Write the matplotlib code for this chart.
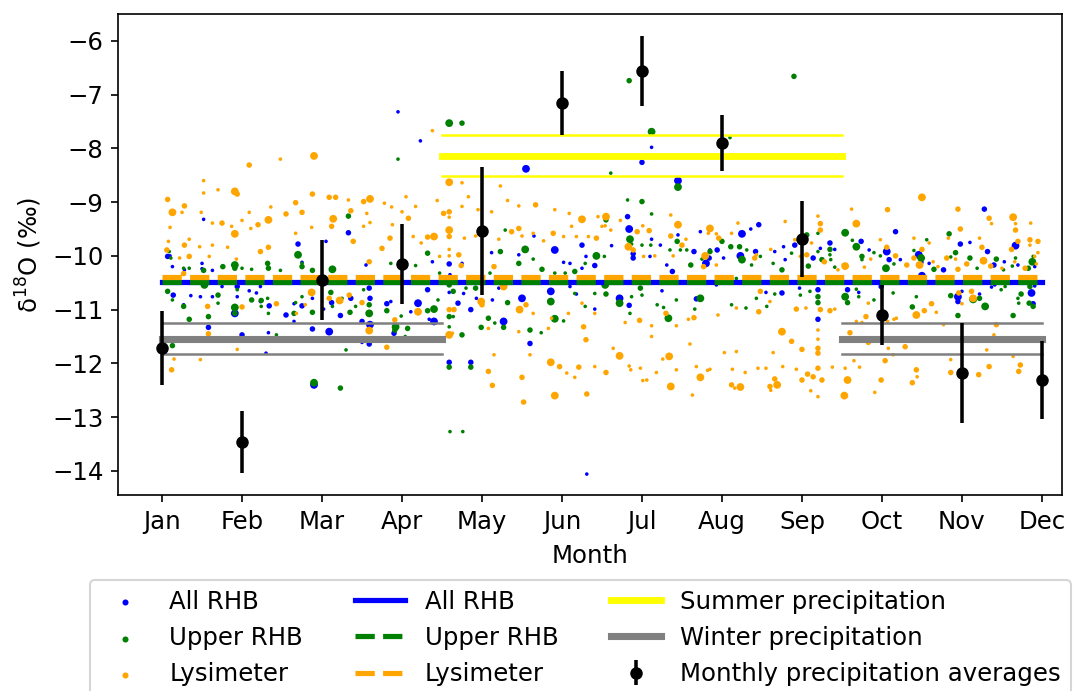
import numpy as np
import matplotlib
matplotlib.use("Agg")
import matplotlib.pyplot as plt

# month labels on the x axis
months = ["Jan", "Feb", "Mar", "Apr", "May", "Jun",
          "Jul", "Aug", "Sep", "Oct", "Nov", "Dec"]

# monthly precipitation averages (mean, +/- std)
precip_mean = [-11.71, -13.46, -10.45, -10.15, -9.53, -7.16,
               -6.56, -7.90, -9.68, -11.10, -12.18, -12.31]
precip_err = [0.69, 0.58, 0.75, 0.74, 1.19, 0.60,
              0.65, 0.53, 0.71, 0.56, 0.93, 0.72]

# mean values of the three groundwater groups
mean_all_rhb = -10.48
mean_upper_rhb = -10.49
mean_lysimeter = -10.40

# seasonal precipitation (mean, std)
summer_mean, summer_std = -8.135, 0.385
winter_mean, winter_std = -11.54, 0.29

# samples: (month position, d18O, sample weight 1..3)
all_rhb = [
    (1.07, -10.01, 2), (1.10, -10.00, 1), (1.13, -10.20, 1), (1.28, -10.26, 1),
    (1.50, -10.14, 1), (1.50, -10.24, 1), (1.63, -10.27, 1), (1.75, -10.57, 1),
    (1.94, -10.57, 2), (2.09, -10.65, 1), (2.23, -10.57, 1), (2.57, -10.48, 1),
    (1.52, -9.32, 1), (2.70, -9.78, 2), (2.75, -10.12, 1), (3.33, -9.57, 2),
    (3.05, -9.73, 1), (3.55, -10.17, 1), (3.59, -10.60, 2), (3.60, -10.79, 2),
    (1.14, -10.73, 2), (1.27, -10.91, 1), (1.36, -10.74, 1), (1.48, -10.76, 1),
    (1.63, -10.76, 1), (1.94, -10.76, 1), (2.18, -10.69, 1), (2.23, -10.85, 1),
    (2.34, -10.93, 2), (2.55, -11.10, 2), (2.65, -10.89, 1), (2.75, -10.93, 2),
    (2.88, -10.79, 1), (3.02, -10.99, 1), (3.12, -10.87, 2), (3.23, -11.11, 2),
    (3.36, -10.79, 2), (3.50, -11.22, 2), (3.60, -11.28, 3), (1.91, -11.07, 3),
    (1.58, -11.33, 2), (2.00, -11.47, 2), (2.33, -11.43, 1), (2.65, -11.22, 1),
    (2.88, -11.36, 2), (3.09, -11.41, 3), (2.30, -11.81, 1), (3.50, -11.61, 1),
    (3.59, -11.64, 2), (2.90, -12.40, 3),
    (3.95, -7.32, 1), (4.23, -7.86, 1), (5.55, -8.38, 3), (3.81, -10.89, 2),
    (3.86, -10.85, 1), (4.11, -11.04, 1), (4.20, -10.88, 3), (3.90, -11.44, 2),
    (4.32, -10.63, 2), (4.40, -11.22, 3), (4.34, -11.18, 1), (4.59, -10.15, 2),
    (4.75, -10.14, 1), (4.59, -10.68, 1), (4.70, -10.88, 2), (4.77, -10.70, 1),
    (4.86, -11.00, 2), (5.13, -10.82, 1), (5.21, -10.60, 1), (5.27, -11.22, 3),
    (5.50, -10.79, 3), (5.60, -11.63, 2), (5.86, -10.66, 3), (5.91, -9.89, 3),
    (6.02, -10.12, 1), (6.10, -10.14, 1), (6.25, -9.80, 2), (6.25, -10.23, 1),
    (6.30, -10.01, 1), (6.41, -10.18, 2), (6.41, -10.99, 1), (6.18, -10.71, 1),
    (6.10, -10.57, 1), (4.59, -11.98, 2), (4.86, -11.98, 2), (5.65, -9.63, 1),
    (5.46, -9.98, 1), (5.12, -9.94, 1), (4.38, -10.11, 1), (4.93, -10.79, 1),
    (4.60, -10.35, 1),
    (7.00, -8.26, 2), (7.45, -8.60, 3), (6.82, -9.27, 2), (6.84, -9.50, 3),
    (6.62, -9.81, 1), (6.89, -9.96, 2), (6.89, -10.04, 2), (7.12, -9.69, 1),
    (7.10, -10.01, 1), (7.23, -9.80, 1), (7.31, -10.17, 1), (7.45, -9.61, 1),
    (7.38, -10.29, 2), (7.65, -9.92, 2), (7.73, -9.55, 1), (7.84, -10.04, 2),
    (7.80, -10.14, 3), (7.85, -9.89, 1), (7.94, -9.89, 2), (8.02, -10.04, 1),
    (8.25, -9.59, 3), (8.23, -10.00, 3), (8.36, -9.50, 1), (8.42, -9.92, 2),
    (8.46, -9.42, 2), (8.66, -9.92, 1), (8.77, -9.83, 1), (8.79, -10.07, 1),
    (8.91, -9.80, 2), (9.14, -10.04, 2), (9.23, -9.86, 1), (9.35, -9.76, 1),
    (6.72, -10.79, 3), (6.84, -10.92, 2), (7.25, -10.65, 1), (7.68, -10.80, 2),
    (7.93, -10.54, 1), (8.22, -10.51, 1), (8.55, -10.68, 1), (8.75, -10.69, 2),
    (8.97, -10.60, 1), (9.20, -10.63, 2), (9.20, -11.18, 2), (9.14, -10.48, 1),
    (7.12, -7.98, 1), (6.31, -14.06, 1),
    (11.28, -9.13, 2), (10.17, -9.55, 2), (9.35, -9.76, 2), (9.41, -9.88, 1),
    (9.74, -9.73, 2), (9.84, -9.89, 1), (10.06, -9.92, 3), (10.09, -10.07, 2),
    (10.23, -10.07, 1), (10.46, -9.98, 3), (10.50, -10.12, 1), (10.59, -10.14, 1),
    (10.77, -10.26, 2), (10.98, -9.78, 2), (11.10, -9.75, 1), (11.32, -9.92, 2),
    (11.40, -10.17, 2), (11.53, -10.11, 1), (11.67, -9.81, 3), (11.70, -10.17, 1),
    (11.91, -10.20, 1), (11.74, -10.42, 1), (11.91, -10.56, 1), (9.57, -10.63, 2),
    (9.55, -10.73, 1), (9.71, -10.68, 1), (9.99, -10.57, 2), (10.50, -10.37, 3),
    (10.95, -10.85, 2), (10.95, -10.76, 3), (11.00, -10.66, 1), (11.22, -10.71, 1),
    (11.37, -10.58, 1), (11.87, -10.69, 3), (11.89, -10.89, 2), (11.41, -10.54, 1),
    (10.16, -10.42, 1),
]

upper_rhb = [
    (1.09, -9.92, 1), (1.11, -10.04, 1), (1.27, -10.23, 1), (1.34, -10.23, 1),
    (1.52, -10.27, 2), (1.76, -10.20, 2), (1.91, -10.17, 3), (1.91, -10.23, 2),
    (2.00, -10.23, 1), (2.12, -10.25, 1), (2.32, -10.14, 2), (2.33, -10.23, 2),
    (2.48, -10.27, 1), (2.75, -10.14, 1), (2.75, -10.20, 2), (2.88, -10.27, 2),
    (3.13, -10.25, 3), (2.70, -9.98, 3), (3.33, -9.26, 2), (1.07, -10.66, 2),
    (1.13, -10.82, 1), (1.27, -10.94, 2), (1.34, -11.18, 2), (1.53, -10.54, 3),
    (1.58, -11.13, 2), (1.70, -10.73, 2), (1.70, -10.88, 1), (1.91, -10.96, 3),
    (1.91, -11.07, 2), (1.94, -10.63, 1), (2.12, -10.82, 2), (2.24, -10.83, 2),
    (2.24, -10.94, 1), (2.32, -10.79, 1), (2.33, -11.07, 1), (2.43, -11.47, 1),
    (2.65, -11.07, 2), (2.67, -10.87, 1), (2.75, -10.76, 1), (2.88, -11.05, 2),
    (3.11, -10.68, 2), (3.13, -10.94, 1), (3.25, -10.79, 1), (3.35, -11.05, 2),
    (3.42, -10.94, 1), (3.59, -10.91, 2), (3.59, -11.07, 3), (3.52, -10.63, 1),
    (1.13, -11.67, 2), (2.90, -12.36, 3), (3.23, -12.46, 2), (3.30, -11.75, 1),
    (4.59, -7.53, 3), (4.75, -7.53, 2), (3.95, -8.20, 1), (4.32, -9.95, 2),
    (3.86, -10.14, 1), (4.17, -10.18, 1), (4.47, -10.32, 1), (4.59, -10.54, 2),
    (4.64, -10.66, 2), (4.80, -10.60, 1), (4.92, -10.60, 2), (5.10, -10.32, 1),
    (5.23, -9.92, 2), (5.29, -9.52, 1), (5.54, -9.88, 3), (5.46, -10.14, 2),
    (5.64, -10.06, 1), (5.75, -10.25, 2), (5.91, -10.32, 1), (6.04, -10.32, 1),
    (6.16, -10.29, 2), (6.29, -10.14, 1), (6.43, -10.00, 3), (6.53, -10.01, 1),
    (3.81, -11.02, 2), (3.92, -11.32, 3), (3.91, -11.38, 2), (4.07, -11.35, 2),
    (3.99, -11.12, 1), (4.32, -11.02, 2), (4.40, -10.99, 3), (4.45, -10.82, 1),
    (4.59, -11.13, 2), (4.59, -11.32, 1), (4.64, -11.13, 1), (4.75, -11.47, 2),
    (4.99, -11.33, 2), (5.08, -11.16, 2), (5.16, -11.25, 1), (5.27, -11.33, 2),
    (5.32, -10.87, 2), (5.60, -11.38, 2), (5.74, -11.43, 1), (5.86, -10.85, 3),
    (5.91, -11.17, 3), (6.02, -11.21, 1), (6.16, -10.70, 1), (6.29, -10.94, 1),
    (6.41, -10.70, 1), (4.59, -12.07, 2), (4.86, -12.07, 2), (4.04, -11.50, 1),
    (4.20, -11.07, 1), (4.60, -13.27, 1), (4.76, -13.27, 1),
    (6.61, -8.46, 1), (6.82, -8.96, 1), (7.00, -8.99, 2), (7.12, -9.22, 1),
    (6.55, -9.33, 2), (6.85, -9.69, 3), (6.87, -9.78, 1), (7.00, -9.80, 1),
    (7.11, -9.80, 1), (7.35, -9.89, 1), (7.44, -9.73, 2), (7.48, -9.89, 1),
    (7.56, -9.89, 1), (7.61, -10.17, 2), (7.75, -10.06, 1), (7.85, -9.92, 2),
    (8.00, -9.73, 2), (8.11, -9.83, 2), (8.18, -10.42, 1), (8.22, -9.83, 2),
    (8.25, -10.07, 3), (8.31, -9.89, 1), (8.37, -10.17, 1), (8.48, -10.01, 1),
    (8.64, -10.14, 1), (8.75, -10.26, 2), (8.87, -9.95, 1), (9.06, -9.61, 2),
    (9.08, -10.19, 2), (9.20, -9.58, 1), (9.20, -9.92, 1), (9.25, -10.07, 2),
    (6.54, -10.54, 3), (6.55, -10.71, 2), (6.72, -10.88, 3), (6.87, -10.76, 1),
    (6.85, -11.07, 1), (6.98, -10.60, 2), (7.00, -10.73, 1), (7.19, -10.91, 1),
    (7.33, -11.16, 3), (7.27, -10.96, 1), (7.43, -10.82, 1), (7.73, -10.79, 3),
    (7.66, -10.99, 1), (8.12, -10.91, 1), (8.30, -10.97, 1), (8.43, -10.79, 1),
    (8.56, -10.94, 1), (8.66, -10.71, 1), (8.98, -10.73, 1), (9.10, -10.66, 1),
    (9.20, -10.76, 2), (9.20, -10.87, 2), (6.84, -6.74, 2), (8.90, -6.66, 2),
    (7.12, -7.69, 3), (8.10, -7.80, 1), (7.45, -8.72, 3),
    (9.54, -9.57, 3), (9.35, -9.88, 2), (9.35, -9.98, 1), (9.63, -9.71, 1),
    (9.68, -9.83, 3), (9.75, -10.01, 2), (9.75, -10.07, 1), (9.90, -9.94, 1),
    (9.98, -10.00, 1), (10.05, -10.23, 3), (10.15, -10.15, 1), (10.40, -9.90, 1),
    (10.49, -10.04, 3), (10.56, -9.70, 1), (10.65, -10.25, 2), (10.84, -9.59, 2),
    (10.86, -10.02, 1), (10.92, -9.94, 2), (11.10, -10.04, 2), (11.19, -10.23, 1),
    (11.43, -10.06, 2), (11.52, -10.26, 1), (11.63, -10.19, 1), (11.67, -10.04, 1),
    (11.83, -10.23, 2), (11.88, -10.11, 3), (11.89, -10.01, 1), (9.36, -10.07, 1),
    (9.41, -10.21, 1), (9.52, -10.17, 1), (9.54, -10.76, 3), (9.57, -10.87, 2),
    (9.68, -10.62, 1), (9.71, -10.76, 1), (9.90, -10.82, 1), (10.14, -10.69, 1),
    (10.38, -10.95, 2), (10.43, -10.76, 1), (10.86, -10.74, 2), (10.95, -11.11, 2),
    (11.14, -10.81, 3), (11.22, -10.79, 2), (11.29, -10.94, 3), (11.49, -10.63, 1),
    (11.54, -10.57, 1), (11.64, -11.11, 2), (11.70, -10.79, 1), (11.71, -10.88, 1),
    (11.74, -10.71, 2), (11.84, -10.88, 2), (11.89, -10.94, 2), (11.85, -10.57, 2),
]

lysimeter = [
    (2.90, -8.14, 3), (2.09, -8.31, 2), (2.48, -8.20, 1), (1.52, -8.60, 1),
    (1.91, -8.80, 3), (1.94, -8.85, 2), (1.70, -8.77, 1), (1.52, -8.83, 1),
    (1.07, -8.95, 2), (1.28, -9.07, 2), (1.13, -9.19, 3), (1.25, -9.19, 1),
    (1.49, -9.19, 1), (1.63, -9.39, 1), (1.75, -9.39, 2), (1.87, -9.45, 1),
    (1.91, -9.59, 3), (2.00, -9.34, 1), (2.09, -9.19, 1), (2.20, -9.42, 2),
    (2.33, -9.33, 3), (2.36, -9.09, 1), (2.55, -9.22, 2), (2.67, -9.01, 2),
    (2.75, -9.19, 2), (2.88, -8.85, 2), (3.09, -8.91, 2), (3.17, -8.91, 2),
    (3.14, -9.31, 3), (3.12, -9.45, 2), (3.33, -8.96, 1), (3.36, -9.16, 2),
    (3.52, -8.99, 2), (3.60, -8.94, 3), (3.56, -9.21, 1), (3.60, -9.38, 1),
    (3.39, -9.73, 2), (3.52, -9.45, 1), (1.08, -9.73, 1), (1.10, -9.47, 1),
    (1.28, -9.80, 2), (1.34, -9.69, 1), (1.47, -9.83, 1), (1.63, -9.80, 1),
    (1.82, -9.84, 1), (2.11, -9.49, 1), (2.23, -9.92, 2), (2.33, -9.84, 2),
    (2.67, -9.58, 1), (2.87, -9.47, 1), (1.06, -9.89, 2), (1.22, -10.04, 1),
    (1.34, -10.01, 2), (1.59, -10.01, 1), (1.93, -10.06, 1), (1.27, -10.33, 2),
    (2.87, -10.68, 3), (2.43, -10.89, 2), (2.00, -10.95, 2), (1.57, -10.94, 2),
    (2.79, -10.91, 1), (2.68, -11.07, 1), (3.22, -10.83, 3), (3.09, -10.79, 2),
    (3.34, -10.73, 2), (3.50, -10.87, 2), (3.59, -10.11, 2), (3.59, -11.39, 3),
    (1.58, -11.45, 2), (1.94, -11.74, 1), (1.15, -11.92, 1), (1.48, -11.93, 1),
    (1.12, -12.12, 2),
    (4.38, -7.67, 1), (4.59, -8.63, 3), (4.75, -8.64, 1), (5.23, -8.70, 1),
    (3.78, -9.02, 1), (3.87, -9.09, 1), (4.05, -8.90, 1), (4.17, -9.08, 1),
    (4.00, -9.18, 1), (4.08, -9.30, 2), (4.44, -8.97, 1), (4.52, -9.21, 2),
    (4.59, -9.18, 2), (4.59, -9.28, 1), (4.75, -9.08, 1), (4.83, -8.90, 1),
    (4.95, -9.14, 1), (5.12, -9.18, 1), (5.32, -8.97, 1), (5.46, -9.07, 1),
    (5.67, -9.05, 2), (5.91, -9.14, 1), (6.09, -9.21, 1), (6.25, -9.32, 3),
    (6.45, -9.27, 1), (3.75, -9.86, 2), (3.85, -9.67, 2), (3.88, -9.42, 1),
    (4.14, -9.64, 1), (4.24, -9.76, 1), (4.32, -9.65, 2), (4.40, -9.64, 3),
    (4.47, -10.01, 1), (4.59, -9.52, 3), (4.59, -9.64, 2), (4.59, -9.88, 1),
    (4.59, -10.00, 1), (4.71, -9.98, 2), (4.74, -10.18, 2), (4.78, -9.67, 1),
    (4.92, -9.63, 1), (5.00, -9.55, 1), (5.15, -10.20, 2), (5.21, -9.69, 1),
    (5.37, -9.55, 2), (5.46, -9.49, 2), (5.50, -9.63, 1), (5.64, -9.58, 1),
    (5.77, -9.72, 1), (5.89, -9.58, 2), (6.02, -9.64, 1), (6.12, -9.45, 1),
    (6.18, -9.64, 1), (6.33, -9.64, 1), (6.43, -9.67, 2), (6.50, -9.45, 1),
    (4.20, -11.04, 3), (3.91, -11.19, 2), (3.81, -11.70, 2), (4.59, -11.00, 2),
    (4.65, -11.00, 2), (4.99, -10.85, 3), (5.00, -10.91, 2), (5.08, -11.35, 1),
    (5.27, -10.57, 3), (5.47, -11.00, 3), (5.55, -10.91, 2), (5.64, -11.07, 1),
    (5.46, -11.41, 1), (5.83, -11.35, 1), (5.87, -11.16, 1), (6.08, -11.07, 1),
    (6.27, -11.32, 2), (6.30, -11.56, 2), (6.25, -10.88, 1), (6.41, -11.07, 1),
    (4.59, -11.47, 3), (4.63, -11.44, 1), (5.15, -11.84, 1), (5.60, -11.84, 1),
    (5.08, -12.15, 2), (5.50, -12.26, 2), (5.86, -11.98, 3), (5.97, -12.06, 2),
    (6.06, -12.18, 1), (6.16, -12.26, 1), (6.21, -12.07, 2), (6.41, -12.06, 1),
    (5.13, -12.41, 2), (5.91, -12.60, 3), (5.52, -12.72, 2), (6.31, -12.57, 2),
    (6.55, -9.27, 3), (6.54, -9.44, 1), (6.61, -9.52, 1), (6.73, -9.34, 1),
    (6.94, -9.55, 2), (7.01, -9.44, 1), (7.09, -9.53, 2), (7.36, -9.24, 1),
    (7.45, -9.42, 3), (7.36, -9.63, 2), (7.50, -9.80, 2), (7.55, -9.69, 1),
    (7.85, -9.49, 3), (7.83, -9.58, 1), (7.93, -9.59, 1), (7.96, -9.67, 2),
    (8.12, -9.58, 1), (8.20, -9.39, 1), (8.41, -10.04, 2), (8.61, -9.88, 1),
    (8.79, -9.36, 1), (8.91, -9.70, 1), (8.98, -10.01, 1), (9.06, -9.98, 2),
    (9.12, -9.76, 1), (9.20, -9.26, 1), (9.23, -9.40, 2), (9.23, -9.52, 2),
    (9.28, -10.11, 2), (6.83, -9.83, 3), (6.89, -9.89, 2), (7.02, -10.01, 1),
    (7.16, -10.00, 1), (7.39, -10.00, 1), (7.79, -10.00, 3), (7.77, -10.20, 2),
    (7.93, -10.17, 1), (8.43, -9.98, 1), (6.79, -11.24, 1), (6.97, -11.20, 2),
    (7.12, -11.30, 1), (7.12, -11.50, 1), (7.30, -11.07, 2), (7.43, -11.30, 1),
    (7.58, -11.18, 1), (7.65, -11.15, 2), (7.95, -11.10, 1), (8.18, -10.97, 1),
    (8.46, -11.04, 2), (8.48, -10.66, 2), (8.60, -10.85, 1), (8.93, -10.99, 2),
    (9.05, -10.97, 1), (9.23, -11.00, 2), (8.75, -11.41, 3), (8.87, -11.59, 2),
    (6.64, -11.72, 1), (6.72, -11.86, 3), (6.55, -12.17, 2), (6.84, -12.05, 1),
    (6.86, -12.12, 1), (6.98, -12.09, 1), (7.01, -12.32, 1), (7.06, -12.31, 1),
    (7.18, -12.17, 1), (7.26, -11.92, 1), (7.34, -11.87, 3), (7.36, -12.43, 3),
    (7.43, -12.12, 1), (7.60, -11.64, 1), (7.63, -12.59, 1), (7.68, -12.06, 1),
    (7.73, -12.26, 3), (7.82, -12.13, 1), (7.85, -12.11, 1), (8.03, -11.80, 1),
    (8.13, -12.11, 1), (8.18, -11.78, 1), (8.12, -12.40, 2), (8.16, -12.46, 1),
    (8.23, -12.44, 3), (8.29, -12.17, 1), (8.45, -12.09, 1), (8.55, -12.09, 1),
    (8.60, -12.43, 2), (8.61, -12.50, 1), (8.64, -11.80, 1), (8.66, -12.29, 2),
    (8.69, -12.40, 3), (8.76, -12.06, 1), (8.93, -12.11, 1), (9.00, -11.74, 2),
    (9.00, -12.31, 2), (9.07, -12.20, 2), (9.11, -12.51, 1), (9.14, -12.25, 2),
    (9.20, -11.38, 1), (9.20, -11.55, 1), (9.20, -11.72, 2), (9.20, -11.81, 2),
    (9.20, -12.09, 2), (9.20, -12.62, 1), (9.25, -12.31, 2),
    (10.50, -8.91, 3), (9.62, -9.13, 1), (10.07, -9.14, 2), (10.95, -9.13, 2),
    (9.68, -9.40, 3), (11.34, -9.30, 2), (11.37, -9.40, 1), (11.64, -9.28, 3),
    (11.67, -9.40, 1), (11.67, -9.52, 2), (11.86, -9.39, 1), (10.40, -9.67, 1),
    (10.50, -9.88, 2), (10.59, -9.76, 1), (10.83, -9.67, 1), (10.98, -9.50, 2),
    (11.22, -9.67, 1), (11.25, -9.84, 2), (11.70, -9.73, 2), (11.85, -9.70, 2),
    (11.85, -9.80, 1), (11.95, -9.73, 2), (11.62, -9.88, 2), (11.91, -10.01, 1),
    (9.54, -10.19, 3), (9.45, -10.26, 1), (9.86, -10.06, 1), (9.78, -10.21, 1),
    (9.98, -9.70, 1), (10.06, -9.84, 2), (10.17, -10.00, 2), (10.31, -10.17, 2),
    (10.40, -10.04, 2), (10.47, -10.17, 3), (10.64, -10.11, 1), (10.70, -10.20, 1),
    (10.81, -10.04, 2), (10.92, -10.06, 1), (10.95, -10.25, 2), (11.06, -10.15, 2),
    (11.27, -10.09, 3), (11.36, -10.19, 2), (11.50, -10.23, 1), (11.66, -10.11, 1),
    (11.79, -10.23, 2), (11.93, -10.15, 1), (11.95, -9.94, 1), (9.35, -11.02, 2),
    (9.41, -10.99, 1), (9.60, -11.43, 2), (9.68, -11.22, 1), (9.75, -11.24, 1),
    (9.80, -11.13, 2), (9.83, -10.88, 1), (9.83, -11.61, 2), (10.07, -11.22, 1),
    (10.15, -11.18, 1), (10.18, -11.16, 1), (10.29, -11.69, 2), (10.43, -11.10, 3),
    (10.53, -11.02, 2), (10.62, -10.89, 2), (10.68, -11.05, 1), (10.77, -11.28, 1),
    (10.96, -10.69, 2), (11.00, -10.89, 1), (11.12, -10.66, 2), (11.14, -10.79, 3),
    (11.31, -11.75, 1), (11.34, -12.06, 2), (11.40, -11.47, 1), (11.43, -11.28, 2),
    (11.64, -11.87, 1), (11.71, -12.15, 2), (11.73, -12.03, 2), (9.38, -12.07, 1),
    (9.54, -12.09, 1), (9.57, -12.31, 3), (9.65, -11.95, 1), (9.72, -12.07, 1),
    (9.91, -12.54, 1), (9.99, -12.31, 2), (10.04, -11.95, 2), (10.38, -12.36, 2),
    (10.43, -12.12, 2), (10.44, -12.25, 1), (10.86, -12.17, 2), (10.86, -11.93, 1),
    (11.21, -12.21, 2), (9.53, -12.60, 3), (10.08, -11.72, 1), (10.14, -11.84, 1),
]

plt.rcParams["font.size"] = 11.7

fig = plt.figure(figsize=(1077 / 150, 691 / 150), dpi=150)
ax = fig.add_axes([0.1096, 0.2836, 0.8764, 0.6961])

# marker area for weight 1, 2, 3
size_map = np.array([0, 3, 7, 14])

for pts, color, label in [(all_rhb, "blue", "All RHB"),
                          (upper_rhb, "green", "Upper RHB"),
                          (lysimeter, "orange", "Lysimeter")]:
    arr = np.array(pts)
    ax.scatter(arr[:, 0], arr[:, 1], s=size_map[arr[:, 2].astype(int)],
               color=color, linewidths=0, label=label, zorder=2)

x_months = np.arange(1, 13)
ax.plot([1, 12], [mean_all_rhb] * 2, color="blue", lw=2.5, label="All RHB", zorder=3)
ax.plot([1, 12], [mean_upper_rhb] * 2, color="green", lw=2.5, ls="--",
        label="Upper RHB", zorder=3)
ax.plot([1, 12], [mean_lysimeter] * 2, color="orange", lw=2.5, ls="--",
        label="Lysimeter", zorder=3)

# summer precipitation (May-Sep)
ax.plot([4.5, 9.5], [summer_mean] * 2, color="yellow", lw=3.3,
        label="Summer precipitation", zorder=3)
for d in (-summer_std, summer_std):
    ax.plot([4.5, 9.5], [summer_mean + d] * 2, color="yellow", lw=1.2, zorder=3)

# winter precipitation (Oct-Apr)
ax.plot([1, 4.5], [winter_mean] * 2, color="grey", lw=3.4,
        label="Winter precipitation", zorder=3)
ax.plot([9.5, 12], [winter_mean] * 2, color="grey", lw=3.4, zorder=3)
for d in (-winter_std, winter_std):
    ax.plot([1, 4.5], [winter_mean + d] * 2, color="grey", lw=1.2, zorder=3)
    ax.plot([9.5, 12], [winter_mean + d] * 2, color="grey", lw=1.2, zorder=3)

ax.errorbar(x_months, precip_mean, yerr=precip_err, fmt="o", color="black",
            ms=5, elinewidth=1.7, label="Monthly precipitation averages", zorder=4)

ax.set_xlim(0.45, 12.25)
ax.set_ylim(-14.45, -5.5)
ax.set_xticks(x_months)
ax.set_xticklabels(months)
ax.set_xlabel("Month", labelpad=5)
ax.set_ylabel("δ$^{18}$O (‰)")

fig.legend(*ax.get_legend_handles_labels(), loc="upper left",
           bbox_to_anchor=(90 / 1077, 0.1606), ncol=3, borderaxespad=0,
           handlelength=2.05, columnspacing=2.15)

fig.savefig("out.png", dpi=150)
